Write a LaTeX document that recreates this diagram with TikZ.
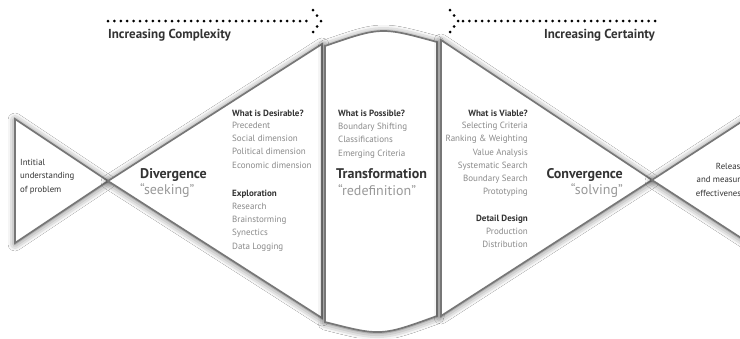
\documentclass[tikz,border=0pt]{standalone}
\usepackage{fontspec}
\setmainfont{PT Sans}
\usetikzlibrary{shadows.blur}
\definecolor{edge}{HTML}{777777}
\definecolor{head}{HTML}{333333}
\definecolor{item}{HTML}{8A8A8A}
\definecolor{soft}{HTML}{999999}
\definecolor{dotc}{HTML}{000000}
\begin{document}
\begin{tikzpicture}[x=1pt,y=-1pt,
  panel/.style={fill=white,draw=edge,line width=1.7pt,line join=miter,
    blur shadow={shadow blur radius=7pt,shadow xshift=0pt,shadow yshift=-1pt,shadow opacity=60}},
  dotline/.style={draw=dotc,line width=3pt,line cap=round,dash pattern=on 0pt off 6.4pt},
  chev/.style={draw=dotc,line width=3pt,line cap=round,dash pattern=on 0pt off 6.8pt},
  title/.style={font=\fontsize{13}{14}\selectfont\bfseries,text=head,inner sep=0pt},
  small/.style={font=\fontsize{8.8}{13.4}\selectfont,text=head,inner sep=0pt,align=left},
  heads/.style={font=\fontsize{9}{13.2}\selectfont\bfseries,text=head,inner sep=0pt},
  items/.style={font=\fontsize{9}{13.2}\selectfont,text=item,inner sep=0pt},
  big/.style={font=\fontsize{14}{15}\selectfont\bfseries,text=head,inner sep=0pt},
  quote/.style={font=\fontsize{14}{15}\selectfont,text=soft,inner sep=0pt}]
\useasboundingbox (0,0) rectangle (740,338);
\fill[white] (0,0) rectangle (740,338);

% shapes
\path[panel] (15,119) -- (108,181) -- (15,243) -- cycle;
\path[panel] (108,181) -- (322,44) -- (322,318) -- cycle;
\path[panel] (325,46) .. controls (381,26.7) .. (437,42) -- (437,316)
   .. controls (381,336.3) .. (325,322) -- cycle;
\path[panel] (441,40) -- (652,180) -- (441,316) -- cycle;
\path[panel] (775,100) -- (652,180) -- (775,260) -- cycle;

% top arrows
\coordinate (c1s) at (108,21);
\coordinate (c1e) at (312,21);
\coordinate (c1a) at (313,10);
\coordinate (c1t) at (321,21);
\coordinate (c1b) at (313,32);
\path[dotline] (c1s) -- (c1e);
\path[chev] (c1a) -- (c1t) -- (c1b);
\node[title,anchor=base west] (tcomp) at (108,38) {Increasing Complexity};

\coordinate (c2a) at (450,10);
\coordinate (c2t) at (458,21);
\coordinate (c2b) at (450,32);
\coordinate (c2s) at (463,21);
\coordinate (c2e) at (655,21);
\path[chev] (c2a) -- (c2t) -- (c2b);
\path[dotline] (c2s) -- (c2e);
\node[title,anchor=base east] (tcert) at (655,38) {Increasing Certainty};

% left
\node[small,anchor=north west] (init) at (20,159) {Intitial\\understanding\\of problem};

% divergence
\node[big,anchor=base west] (div) at (140,178) {Divergence};
\node[quote,anchor=base west] (seek) at (140,194) {“seeking”};
\node[heads,anchor=base west] (desh) at (232,116) {What is Desirable?};
\node[items,anchor=north west,align=left] (desi) at (232,122) {Precedent\\Social dimension\\Political dimension\\Economic dimension};
\node[heads,anchor=base west] (exph) at (232,196) {Exploration};
\node[items,anchor=north west,align=left] (expi) at (232,203) {Research\\Brainstorming\\Synectics\\Data Logging};

% transformation
\node[heads,anchor=base west] (posh) at (338,116) {What is Possible?};
\node[items,anchor=north west,align=left] (posi) at (338,123) {Boundary Shifting\\Classifications\\Emerging Criteria};
\node[big,anchor=base west] (trans) at (336,178) {Transformation};
\node[quote,anchor=base west] (redef) at (338,195) {“redefinition”};

% convergence
\node[heads,anchor=base east] (viah) at (528,116) {What is Viable?};
\node[items,anchor=north east,align=right] (viai) at (528,122) {Selecting Criteria\\Ranking \& Weighting\\Value Analysis\\Systematic Search\\Boundary Search\\Prototyping};
\node[heads,anchor=base east] (deth) at (528,221) {Detail Design};
\node[items,anchor=north east,align=right] (deti) at (528,228) {Production\\Distribution};
\node[big,anchor=base east] (conv) at (623,178) {Convergence};
\node[quote,anchor=base east] (solv) at (623,194) {“solving”};

% right
\node[small,anchor=north east,align=right] (rel) at (745,163) {Release\\and measure\\effectiveness};
\end{tikzpicture}
\end{document}
